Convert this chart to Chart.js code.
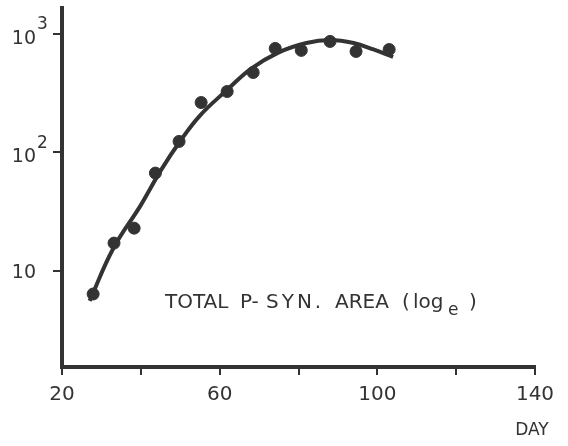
<!DOCTYPE html>
<html>
<head>
<meta charset="utf-8">
<script src="https://cdn.jsdelivr.net/npm/chart.js@4"></script>
<style>
  html, body { margin: 0; padding: 0; background: #fff; }
  #wrap { width: 568px; height: 446px; }
</style>
</head>
<body>
<div id="wrap"><canvas id="chart"></canvas></div>
<script>
// measured points
const pointDays = [27.9, 33.2, 38.3, 43.7, 49.7, 55.3, 61.9, 68.5, 74.1, 80.7, 88.0, 94.6, 103.0];
const pointAreas = [6.4, 17.2, 23, 67, 124, 264, 327, 473, 755, 727, 865, 712, 739];

// fitted curve
const curveDays = [27, 33, 40, 45, 50, 55, 62, 68, 75, 82, 88, 94, 99, 104];
const curveAreas = [5.6, 15.5, 36, 70, 125, 205, 340, 510, 700, 840, 890, 840, 740, 640];

const xTicks = [20, 40, 60, 80, 100, 120, 140];
const xTickLabels = ["20", "", "60", "", "100", "", "140"];
const yTicks = [10, 100, 1000];
const yTickBase = ["10", "10", "10"];
const yTickExp = ["", "2", "3"];

// caption pieces and where each starts
const captionParts = ["TOTAL", "P-", "SYN.", "AREA", "(", "log", "e", ")"];
const captionX = [165, 240, 266, 335, 402, 413, 448, 469];

const ink = "#333";
const font = "'DejaVu Sans', sans-serif";

const labels = {
  id: "labels",
  afterDraw(chart) {
    const ctx = chart.ctx;
    const y = chart.scales.y;
    ctx.save();
    ctx.fillStyle = ink;
    ctx.textBaseline = "middle";
    yTicks.forEach((v, i) => {
      const py = y.getPixelForValue(v);
      const off = yTickExp[i] ? 5 : 2;
      ctx.font = "19px " + font;
      ctx.textAlign = "right";
      ctx.fillText(yTickBase[i], 36, py + off);
      if (yTickExp[i]) {
        ctx.font = "17px " + font;
        ctx.textAlign = "left";
        ctx.fillText(yTickExp[i], 37, py - 9);
      }
    });
    // in-plot caption
    ctx.textAlign = "left";
    ctx.textBaseline = "alphabetic";
    captionParts.forEach((t, i) => {
      const sub = t === "e";
      ctx.font = (sub ? "17px " : "20px ") + font;
      ctx.letterSpacing = t === "SYN." ? "3px" : "0px";
      ctx.fillText(t, captionX[i], sub ? 315 : 308);
    });
    ctx.letterSpacing = "0px";
    // axis name
    ctx.font = "17px " + font;
    ctx.textAlign = "center";
    ctx.textBaseline = "middle";
    ctx.fillText("DAY", 532, 431);
    ctx.restore();
  }
};

new Chart(document.getElementById("chart"), {
  type: "scatter",
  data: {
    datasets: [
      {
        label: "fit",
        data: curveDays.map((d, i) => ({ x: d, y: curveAreas[i] })),
        showLine: true,
        borderColor: ink,
        borderWidth: 4,
        pointRadius: 0,
        tension: 0.4,
      },
      {
        label: "area",
        data: pointDays.map((d, i) => ({ x: d, y: pointAreas[i] })),
        backgroundColor: ink,
        borderColor: ink,
        pointRadius: 6,
      },
    ],
  },
  options: {
    responsive: true,
    maintainAspectRatio: false,
    animation: false,
    layout: { padding: { left: 0, right: 33, top: 8, bottom: 0 } },
    plugins: { legend: { display: false }, tooltip: { enabled: false } },
    scales: {
      x: {
        type: "linear",
        min: 20,
        max: 140,
        afterBuildTicks: (s) => { s.ticks = xTicks.map((v) => ({ value: v })); },
        afterFit: (s) => { s.height = 79; },
        border: { display: true, color: ink, width: 4 },
        grid: { drawOnChartArea: false, drawTicks: true, tickLength: 8, color: ink, lineWidth: 2 },
        ticks: {
          color: ink,
          padding: 8,
          maxRotation: 0,
          font: { family: font, size: 20 },
          callback: (v) => xTickLabels[xTicks.indexOf(v)],
        },
      },
      y: {
        type: "logarithmic",
        min: 1.55,
        max: 1656,
        afterBuildTicks: (s) => { s.ticks = yTicks.map((v) => ({ value: v })); },
        afterFit: (s) => { s.width = 62; },
        border: { display: true, color: ink, width: 4 },
        grid: { drawOnChartArea: false, drawTicks: true, tickLength: 9, color: ink, lineWidth: 2 },
        ticks: { display: false },
      },
    },
  },
  plugins: [labels],
});
</script>
</body>
</html>
